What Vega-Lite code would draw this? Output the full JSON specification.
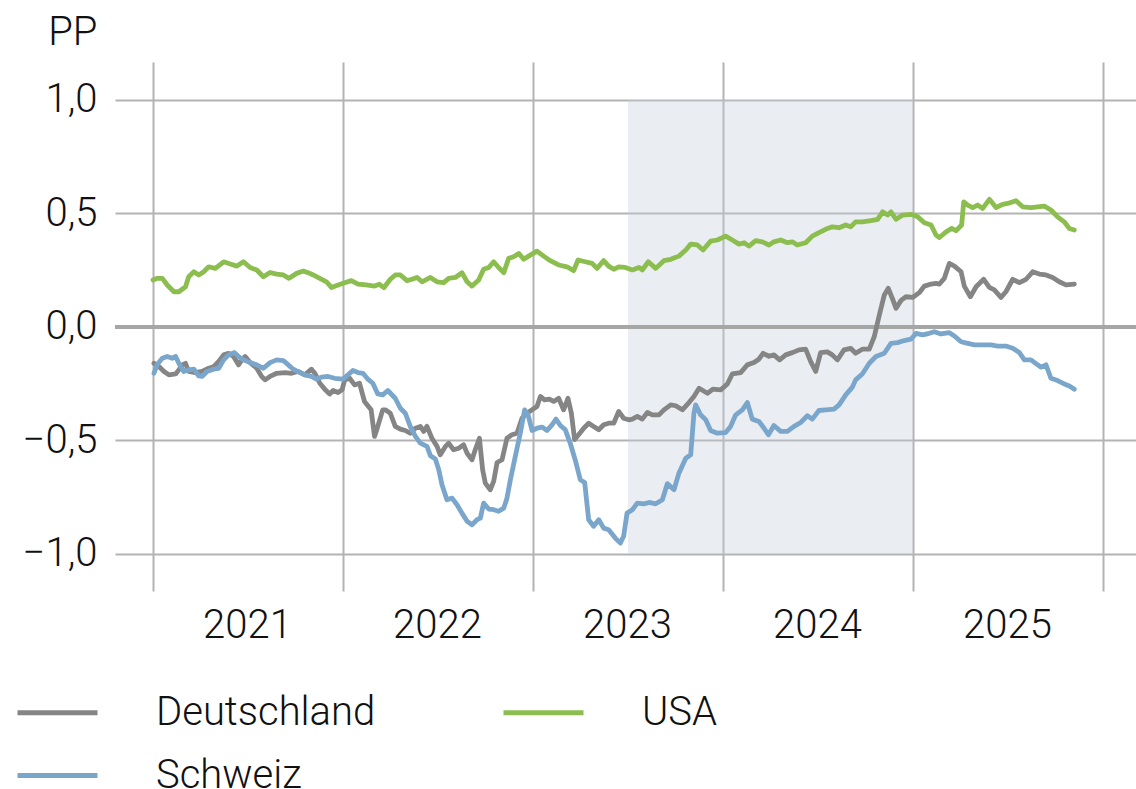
{
  "$schema": "https://vega.github.io/schema/vega-lite/v6.json",
  "width": 1021,
  "height": 529,
  "autosize": {"type": "none"},
  "padding": {"left": 115, "top": 62, "right": 0, "bottom": 198},
  "background": "white",
  "config": {
    "view": {"stroke": null},
    "font": "Roboto",
    "axis": {
      "labelFont": "Roboto", "labelFontWeight": 300, "labelFontSize": 40, "labelColor": "#111111",
      "titleFont": "Roboto", "titleFontWeight": 300, "titleFontSize": 40, "titleColor": "#111111",
      "grid": true, "gridColor": "#b3b3b3", "gridWidth": 2,
      "domain": false, "ticks": false, "labelOverlap": false, "labelBound": false, "labelFlush": false
    },
    "legend": {
      "labelFont": "Roboto", "labelFontWeight": 300, "labelFontSize": 40, "labelColor": "#111111", "labelLimit": 500
    }
  },
  "datasets": {
    "kurven": [
      {"Jahr":2021.005,"Land":"Deutschland","PP":-0.160},
      {"Jahr":2021.031,"Land":"Deutschland","PP":-0.174},
      {"Jahr":2021.058,"Land":"Deutschland","PP":-0.196},
      {"Jahr":2021.084,"Land":"Deutschland","PP":-0.211},
      {"Jahr":2021.119,"Land":"Deutschland","PP":-0.207},
      {"Jahr":2021.136,"Land":"Deutschland","PP":-0.189},
      {"Jahr":2021.154,"Land":"Deutschland","PP":-0.167},
      {"Jahr":2021.171,"Land":"Deutschland","PP":-0.160},
      {"Jahr":2021.188,"Land":"Deutschland","PP":-0.196},
      {"Jahr":2021.223,"Land":"Deutschland","PP":-0.201},
      {"Jahr":2021.258,"Land":"Deutschland","PP":-0.196},
      {"Jahr":2021.293,"Land":"Deutschland","PP":-0.182},
      {"Jahr":2021.319,"Land":"Deutschland","PP":-0.175},
      {"Jahr":2021.346,"Land":"Deutschland","PP":-0.152},
      {"Jahr":2021.372,"Land":"Deutschland","PP":-0.123},
      {"Jahr":2021.398,"Land":"Deutschland","PP":-0.116},
      {"Jahr":2021.424,"Land":"Deutschland","PP":-0.130},
      {"Jahr":2021.450,"Land":"Deutschland","PP":-0.167},
      {"Jahr":2021.468,"Land":"Deutschland","PP":-0.145},
      {"Jahr":2021.485,"Land":"Deutschland","PP":-0.130},
      {"Jahr":2021.511,"Land":"Deutschland","PP":-0.157},
      {"Jahr":2021.546,"Land":"Deutschland","PP":-0.182},
      {"Jahr":2021.572,"Land":"Deutschland","PP":-0.218},
      {"Jahr":2021.590,"Land":"Deutschland","PP":-0.233},
      {"Jahr":2021.616,"Land":"Deutschland","PP":-0.218},
      {"Jahr":2021.651,"Land":"Deutschland","PP":-0.204},
      {"Jahr":2021.695,"Land":"Deutschland","PP":-0.201},
      {"Jahr":2021.729,"Land":"Deutschland","PP":-0.204},
      {"Jahr":2021.764,"Land":"Deutschland","PP":-0.196},
      {"Jahr":2021.799,"Land":"Deutschland","PP":-0.211},
      {"Jahr":2021.834,"Land":"Deutschland","PP":-0.186},
      {"Jahr":2021.852,"Land":"Deutschland","PP":-0.204},
      {"Jahr":2021.878,"Land":"Deutschland","PP":-0.248},
      {"Jahr":2021.904,"Land":"Deutschland","PP":-0.274},
      {"Jahr":2021.930,"Land":"Deutschland","PP":-0.295},
      {"Jahr":2021.948,"Land":"Deutschland","PP":-0.280},
      {"Jahr":2021.974,"Land":"Deutschland","PP":-0.289},
      {"Jahr":2021.995,"Land":"Deutschland","PP":-0.277},
      {"Jahr":2022.009,"Land":"Deutschland","PP":-0.233},
      {"Jahr":2022.035,"Land":"Deutschland","PP":-0.226},
      {"Jahr":2022.061,"Land":"Deutschland","PP":-0.255},
      {"Jahr":2022.087,"Land":"Deutschland","PP":-0.248},
      {"Jahr":2022.113,"Land":"Deutschland","PP":-0.328},
      {"Jahr":2022.148,"Land":"Deutschland","PP":-0.365},
      {"Jahr":2022.166,"Land":"Deutschland","PP":-0.482},
      {"Jahr":2022.183,"Land":"Deutschland","PP":-0.438},
      {"Jahr":2022.209,"Land":"Deutschland","PP":-0.365},
      {"Jahr":2022.223,"Land":"Deutschland","PP":-0.365},
      {"Jahr":2022.249,"Land":"Deutschland","PP":-0.380},
      {"Jahr":2022.275,"Land":"Deutschland","PP":-0.438},
      {"Jahr":2022.302,"Land":"Deutschland","PP":-0.450},
      {"Jahr":2022.328,"Land":"Deutschland","PP":-0.456},
      {"Jahr":2022.354,"Land":"Deutschland","PP":-0.468},
      {"Jahr":2022.381,"Land":"Deutschland","PP":-0.446},
      {"Jahr":2022.407,"Land":"Deutschland","PP":-0.438},
      {"Jahr":2022.425,"Land":"Deutschland","PP":-0.460},
      {"Jahr":2022.442,"Land":"Deutschland","PP":-0.438},
      {"Jahr":2022.468,"Land":"Deutschland","PP":-0.490},
      {"Jahr":2022.495,"Land":"Deutschland","PP":-0.526},
      {"Jahr":2022.512,"Land":"Deutschland","PP":-0.563},
      {"Jahr":2022.539,"Land":"Deutschland","PP":-0.526},
      {"Jahr":2022.556,"Land":"Deutschland","PP":-0.512},
      {"Jahr":2022.582,"Land":"Deutschland","PP":-0.541},
      {"Jahr":2022.609,"Land":"Deutschland","PP":-0.534},
      {"Jahr":2022.635,"Land":"Deutschland","PP":-0.519},
      {"Jahr":2022.653,"Land":"Deutschland","PP":-0.556},
      {"Jahr":2022.679,"Land":"Deutschland","PP":-0.585},
      {"Jahr":2022.696,"Land":"Deutschland","PP":-0.541},
      {"Jahr":2022.718,"Land":"Deutschland","PP":-0.490},
      {"Jahr":2022.735,"Land":"Deutschland","PP":-0.629},
      {"Jahr":2022.749,"Land":"Deutschland","PP":-0.688},
      {"Jahr":2022.775,"Land":"Deutschland","PP":-0.717},
      {"Jahr":2022.793,"Land":"Deutschland","PP":-0.680},
      {"Jahr":2022.811,"Land":"Deutschland","PP":-0.597},
      {"Jahr":2022.837,"Land":"Deutschland","PP":-0.585},
      {"Jahr":2022.863,"Land":"Deutschland","PP":-0.490},
      {"Jahr":2022.889,"Land":"Deutschland","PP":-0.475},
      {"Jahr":2022.916,"Land":"Deutschland","PP":-0.468},
      {"Jahr":2022.942,"Land":"Deutschland","PP":-0.402},
      {"Jahr":2022.968,"Land":"Deutschland","PP":-0.380},
      {"Jahr":2022.995,"Land":"Deutschland","PP":-0.365},
      {"Jahr":2023.021,"Land":"Deutschland","PP":-0.350},
      {"Jahr":2023.039,"Land":"Deutschland","PP":-0.306},
      {"Jahr":2023.061,"Land":"Deutschland","PP":-0.321},
      {"Jahr":2023.086,"Land":"Deutschland","PP":-0.318},
      {"Jahr":2023.109,"Land":"Deutschland","PP":-0.328},
      {"Jahr":2023.135,"Land":"Deutschland","PP":-0.314},
      {"Jahr":2023.161,"Land":"Deutschland","PP":-0.365},
      {"Jahr":2023.184,"Land":"Deutschland","PP":-0.314},
      {"Jahr":2023.202,"Land":"Deutschland","PP":-0.380},
      {"Jahr":2023.219,"Land":"Deutschland","PP":-0.496},
      {"Jahr":2023.240,"Land":"Deutschland","PP":-0.475},
      {"Jahr":2023.267,"Land":"Deutschland","PP":-0.446},
      {"Jahr":2023.293,"Land":"Deutschland","PP":-0.424},
      {"Jahr":2023.319,"Land":"Deutschland","PP":-0.438},
      {"Jahr":2023.346,"Land":"Deutschland","PP":-0.453},
      {"Jahr":2023.372,"Land":"Deutschland","PP":-0.431},
      {"Jahr":2023.398,"Land":"Deutschland","PP":-0.424},
      {"Jahr":2023.425,"Land":"Deutschland","PP":-0.424},
      {"Jahr":2023.451,"Land":"Deutschland","PP":-0.372},
      {"Jahr":2023.477,"Land":"Deutschland","PP":-0.402},
      {"Jahr":2023.504,"Land":"Deutschland","PP":-0.409},
      {"Jahr":2023.523,"Land":"Deutschland","PP":-0.406},
      {"Jahr":2023.549,"Land":"Deutschland","PP":-0.394},
      {"Jahr":2023.575,"Land":"Deutschland","PP":-0.406},
      {"Jahr":2023.602,"Land":"Deutschland","PP":-0.377},
      {"Jahr":2023.628,"Land":"Deutschland","PP":-0.387},
      {"Jahr":2023.663,"Land":"Deutschland","PP":-0.387},
      {"Jahr":2023.689,"Land":"Deutschland","PP":-0.365},
      {"Jahr":2023.725,"Land":"Deutschland","PP":-0.343},
      {"Jahr":2023.751,"Land":"Deutschland","PP":-0.347},
      {"Jahr":2023.786,"Land":"Deutschland","PP":-0.365},
      {"Jahr":2023.821,"Land":"Deutschland","PP":-0.333},
      {"Jahr":2023.847,"Land":"Deutschland","PP":-0.306},
      {"Jahr":2023.874,"Land":"Deutschland","PP":-0.270},
      {"Jahr":2023.918,"Land":"Deutschland","PP":-0.292},
      {"Jahr":2023.947,"Land":"Deutschland","PP":-0.274},
      {"Jahr":2023.988,"Land":"Deutschland","PP":-0.277},
      {"Jahr":2024.023,"Land":"Deutschland","PP":-0.251},
      {"Jahr":2024.049,"Land":"Deutschland","PP":-0.207},
      {"Jahr":2024.093,"Land":"Deutschland","PP":-0.201},
      {"Jahr":2024.128,"Land":"Deutschland","PP":-0.167},
      {"Jahr":2024.163,"Land":"Deutschland","PP":-0.157},
      {"Jahr":2024.189,"Land":"Deutschland","PP":-0.142},
      {"Jahr":2024.211,"Land":"Deutschland","PP":-0.116},
      {"Jahr":2024.242,"Land":"Deutschland","PP":-0.129},
      {"Jahr":2024.268,"Land":"Deutschland","PP":-0.123},
      {"Jahr":2024.298,"Land":"Deutschland","PP":-0.145},
      {"Jahr":2024.330,"Land":"Deutschland","PP":-0.123},
      {"Jahr":2024.365,"Land":"Deutschland","PP":-0.113},
      {"Jahr":2024.400,"Land":"Deutschland","PP":-0.101},
      {"Jahr":2024.435,"Land":"Deutschland","PP":-0.098},
      {"Jahr":2024.461,"Land":"Deutschland","PP":-0.152},
      {"Jahr":2024.488,"Land":"Deutschland","PP":-0.196},
      {"Jahr":2024.514,"Land":"Deutschland","PP":-0.113},
      {"Jahr":2024.549,"Land":"Deutschland","PP":-0.110},
      {"Jahr":2024.575,"Land":"Deutschland","PP":-0.123},
      {"Jahr":2024.602,"Land":"Deutschland","PP":-0.145},
      {"Jahr":2024.637,"Land":"Deutschland","PP":-0.101},
      {"Jahr":2024.672,"Land":"Deutschland","PP":-0.094},
      {"Jahr":2024.698,"Land":"Deutschland","PP":-0.116},
      {"Jahr":2024.733,"Land":"Deutschland","PP":-0.098},
      {"Jahr":2024.770,"Land":"Deutschland","PP":-0.098},
      {"Jahr":2024.796,"Land":"Deutschland","PP":-0.043},
      {"Jahr":2024.823,"Land":"Deutschland","PP":0.053},
      {"Jahr":2024.849,"Land":"Deutschland","PP":0.141},
      {"Jahr":2024.870,"Land":"Deutschland","PP":0.170},
      {"Jahr":2024.893,"Land":"Deutschland","PP":0.122},
      {"Jahr":2024.911,"Land":"Deutschland","PP":0.082},
      {"Jahr":2024.937,"Land":"Deutschland","PP":0.117},
      {"Jahr":2024.963,"Land":"Deutschland","PP":0.133},
      {"Jahr":2024.998,"Land":"Deutschland","PP":0.130},
      {"Jahr":2025.033,"Land":"Deutschland","PP":0.151},
      {"Jahr":2025.060,"Land":"Deutschland","PP":0.180},
      {"Jahr":2025.095,"Land":"Deutschland","PP":0.189},
      {"Jahr":2025.121,"Land":"Deutschland","PP":0.192},
      {"Jahr":2025.139,"Land":"Deutschland","PP":0.189},
      {"Jahr":2025.165,"Land":"Deutschland","PP":0.214},
      {"Jahr":2025.191,"Land":"Deutschland","PP":0.280},
      {"Jahr":2025.218,"Land":"Deutschland","PP":0.268},
      {"Jahr":2025.253,"Land":"Deutschland","PP":0.243},
      {"Jahr":2025.270,"Land":"Deutschland","PP":0.180},
      {"Jahr":2025.302,"Land":"Deutschland","PP":0.133},
      {"Jahr":2025.332,"Land":"Deutschland","PP":0.177},
      {"Jahr":2025.372,"Land":"Deutschland","PP":0.210},
      {"Jahr":2025.402,"Land":"Deutschland","PP":0.174},
      {"Jahr":2025.428,"Land":"Deutschland","PP":0.163},
      {"Jahr":2025.463,"Land":"Deutschland","PP":0.130},
      {"Jahr":2025.489,"Land":"Deutschland","PP":0.155},
      {"Jahr":2025.525,"Land":"Deutschland","PP":0.210},
      {"Jahr":2025.560,"Land":"Deutschland","PP":0.195},
      {"Jahr":2025.595,"Land":"Deutschland","PP":0.210},
      {"Jahr":2025.630,"Land":"Deutschland","PP":0.243},
      {"Jahr":2025.665,"Land":"Deutschland","PP":0.233},
      {"Jahr":2025.700,"Land":"Deutschland","PP":0.229},
      {"Jahr":2025.735,"Land":"Deutschland","PP":0.218},
      {"Jahr":2025.770,"Land":"Deutschland","PP":0.199},
      {"Jahr":2025.805,"Land":"Deutschland","PP":0.185},
      {"Jahr":2025.849,"Land":"Deutschland","PP":0.189},

      {"Jahr":2021.005,"Land":"Schweiz","PP":-0.204},
      {"Jahr":2021.023,"Land":"Schweiz","PP":-0.164},
      {"Jahr":2021.049,"Land":"Schweiz","PP":-0.138},
      {"Jahr":2021.075,"Land":"Schweiz","PP":-0.130},
      {"Jahr":2021.101,"Land":"Schweiz","PP":-0.138},
      {"Jahr":2021.119,"Land":"Schweiz","PP":-0.130},
      {"Jahr":2021.136,"Land":"Schweiz","PP":-0.160},
      {"Jahr":2021.162,"Land":"Schweiz","PP":-0.196},
      {"Jahr":2021.188,"Land":"Schweiz","PP":-0.189},
      {"Jahr":2021.215,"Land":"Schweiz","PP":-0.186},
      {"Jahr":2021.241,"Land":"Schweiz","PP":-0.216},
      {"Jahr":2021.258,"Land":"Schweiz","PP":-0.218},
      {"Jahr":2021.284,"Land":"Schweiz","PP":-0.196},
      {"Jahr":2021.319,"Land":"Schweiz","PP":-0.186},
      {"Jahr":2021.346,"Land":"Schweiz","PP":-0.182},
      {"Jahr":2021.372,"Land":"Schweiz","PP":-0.145},
      {"Jahr":2021.398,"Land":"Schweiz","PP":-0.123},
      {"Jahr":2021.429,"Land":"Schweiz","PP":-0.113},
      {"Jahr":2021.450,"Land":"Schweiz","PP":-0.130},
      {"Jahr":2021.476,"Land":"Schweiz","PP":-0.145},
      {"Jahr":2021.511,"Land":"Schweiz","PP":-0.157},
      {"Jahr":2021.546,"Land":"Schweiz","PP":-0.167},
      {"Jahr":2021.581,"Land":"Schweiz","PP":-0.182},
      {"Jahr":2021.616,"Land":"Schweiz","PP":-0.157},
      {"Jahr":2021.651,"Land":"Schweiz","PP":-0.145},
      {"Jahr":2021.686,"Land":"Schweiz","PP":-0.148},
      {"Jahr":2021.712,"Land":"Schweiz","PP":-0.167},
      {"Jahr":2021.738,"Land":"Schweiz","PP":-0.186},
      {"Jahr":2021.773,"Land":"Schweiz","PP":-0.201},
      {"Jahr":2021.799,"Land":"Schweiz","PP":-0.211},
      {"Jahr":2021.834,"Land":"Schweiz","PP":-0.218},
      {"Jahr":2021.860,"Land":"Schweiz","PP":-0.230},
      {"Jahr":2021.887,"Land":"Schweiz","PP":-0.221},
      {"Jahr":2021.921,"Land":"Schweiz","PP":-0.218},
      {"Jahr":2021.956,"Land":"Schweiz","PP":-0.226},
      {"Jahr":2022.000,"Land":"Schweiz","PP":-0.230},
      {"Jahr":2022.026,"Land":"Schweiz","PP":-0.211},
      {"Jahr":2022.052,"Land":"Schweiz","PP":-0.192},
      {"Jahr":2022.079,"Land":"Schweiz","PP":-0.201},
      {"Jahr":2022.105,"Land":"Schweiz","PP":-0.204},
      {"Jahr":2022.131,"Land":"Schweiz","PP":-0.230},
      {"Jahr":2022.157,"Land":"Schweiz","PP":-0.248},
      {"Jahr":2022.183,"Land":"Schweiz","PP":-0.295},
      {"Jahr":2022.209,"Land":"Schweiz","PP":-0.299},
      {"Jahr":2022.236,"Land":"Schweiz","PP":-0.280},
      {"Jahr":2022.275,"Land":"Schweiz","PP":-0.314},
      {"Jahr":2022.302,"Land":"Schweiz","PP":-0.358},
      {"Jahr":2022.328,"Land":"Schweiz","PP":-0.380},
      {"Jahr":2022.354,"Land":"Schweiz","PP":-0.438},
      {"Jahr":2022.381,"Land":"Schweiz","PP":-0.482},
      {"Jahr":2022.407,"Land":"Schweiz","PP":-0.512},
      {"Jahr":2022.442,"Land":"Schweiz","PP":-0.526},
      {"Jahr":2022.460,"Land":"Schweiz","PP":-0.567},
      {"Jahr":2022.486,"Land":"Schweiz","PP":-0.582},
      {"Jahr":2022.504,"Land":"Schweiz","PP":-0.629},
      {"Jahr":2022.521,"Land":"Schweiz","PP":-0.695},
      {"Jahr":2022.547,"Land":"Schweiz","PP":-0.761},
      {"Jahr":2022.574,"Land":"Schweiz","PP":-0.754},
      {"Jahr":2022.600,"Land":"Schweiz","PP":-0.783},
      {"Jahr":2022.626,"Land":"Schweiz","PP":-0.820},
      {"Jahr":2022.653,"Land":"Schweiz","PP":-0.856},
      {"Jahr":2022.679,"Land":"Schweiz","PP":-0.871},
      {"Jahr":2022.705,"Land":"Schweiz","PP":-0.849},
      {"Jahr":2022.723,"Land":"Schweiz","PP":-0.842},
      {"Jahr":2022.740,"Land":"Schweiz","PP":-0.776},
      {"Jahr":2022.767,"Land":"Schweiz","PP":-0.802},
      {"Jahr":2022.793,"Land":"Schweiz","PP":-0.805},
      {"Jahr":2022.819,"Land":"Schweiz","PP":-0.812},
      {"Jahr":2022.846,"Land":"Schweiz","PP":-0.798},
      {"Jahr":2022.863,"Land":"Schweiz","PP":-0.754},
      {"Jahr":2022.881,"Land":"Schweiz","PP":-0.673},
      {"Jahr":2022.907,"Land":"Schweiz","PP":-0.570},
      {"Jahr":2022.933,"Land":"Schweiz","PP":-0.468},
      {"Jahr":2022.956,"Land":"Schweiz","PP":-0.365},
      {"Jahr":2022.974,"Land":"Schweiz","PP":-0.387},
      {"Jahr":2022.995,"Land":"Schweiz","PP":-0.456},
      {"Jahr":2023.021,"Land":"Schweiz","PP":-0.446},
      {"Jahr":2023.047,"Land":"Schweiz","PP":-0.441},
      {"Jahr":2023.074,"Land":"Schweiz","PP":-0.456},
      {"Jahr":2023.100,"Land":"Schweiz","PP":-0.431},
      {"Jahr":2023.121,"Land":"Schweiz","PP":-0.406},
      {"Jahr":2023.144,"Land":"Schweiz","PP":-0.434},
      {"Jahr":2023.170,"Land":"Schweiz","PP":-0.453},
      {"Jahr":2023.196,"Land":"Schweiz","PP":-0.512},
      {"Jahr":2023.223,"Land":"Schweiz","PP":-0.588},
      {"Jahr":2023.249,"Land":"Schweiz","PP":-0.673},
      {"Jahr":2023.272,"Land":"Schweiz","PP":-0.685},
      {"Jahr":2023.293,"Land":"Schweiz","PP":-0.849},
      {"Jahr":2023.319,"Land":"Schweiz","PP":-0.878},
      {"Jahr":2023.346,"Land":"Schweiz","PP":-0.849},
      {"Jahr":2023.372,"Land":"Schweiz","PP":-0.886},
      {"Jahr":2023.398,"Land":"Schweiz","PP":-0.893},
      {"Jahr":2023.433,"Land":"Schweiz","PP":-0.930},
      {"Jahr":2023.460,"Land":"Schweiz","PP":-0.952},
      {"Jahr":2023.477,"Land":"Schweiz","PP":-0.922},
      {"Jahr":2023.495,"Land":"Schweiz","PP":-0.820},
      {"Jahr":2023.523,"Land":"Schweiz","PP":-0.805},
      {"Jahr":2023.549,"Land":"Schweiz","PP":-0.776},
      {"Jahr":2023.584,"Land":"Schweiz","PP":-0.779},
      {"Jahr":2023.611,"Land":"Schweiz","PP":-0.773},
      {"Jahr":2023.646,"Land":"Schweiz","PP":-0.779},
      {"Jahr":2023.681,"Land":"Schweiz","PP":-0.761},
      {"Jahr":2023.707,"Land":"Schweiz","PP":-0.690},
      {"Jahr":2023.742,"Land":"Schweiz","PP":-0.717},
      {"Jahr":2023.768,"Land":"Schweiz","PP":-0.644},
      {"Jahr":2023.804,"Land":"Schweiz","PP":-0.578},
      {"Jahr":2023.830,"Land":"Schweiz","PP":-0.563},
      {"Jahr":2023.847,"Land":"Schweiz","PP":-0.380},
      {"Jahr":2023.856,"Land":"Schweiz","PP":-0.343},
      {"Jahr":2023.882,"Land":"Schweiz","PP":-0.387},
      {"Jahr":2023.909,"Land":"Schweiz","PP":-0.409},
      {"Jahr":2023.935,"Land":"Schweiz","PP":-0.456},
      {"Jahr":2023.970,"Land":"Schweiz","PP":-0.468},
      {"Jahr":2024.014,"Land":"Schweiz","PP":-0.465},
      {"Jahr":2024.040,"Land":"Schweiz","PP":-0.438},
      {"Jahr":2024.067,"Land":"Schweiz","PP":-0.387},
      {"Jahr":2024.102,"Land":"Schweiz","PP":-0.365},
      {"Jahr":2024.128,"Land":"Schweiz","PP":-0.333},
      {"Jahr":2024.154,"Land":"Schweiz","PP":-0.406},
      {"Jahr":2024.189,"Land":"Schweiz","PP":-0.416},
      {"Jahr":2024.216,"Land":"Schweiz","PP":-0.446},
      {"Jahr":2024.239,"Land":"Schweiz","PP":-0.475},
      {"Jahr":2024.268,"Land":"Schweiz","PP":-0.434},
      {"Jahr":2024.304,"Land":"Schweiz","PP":-0.460},
      {"Jahr":2024.339,"Land":"Schweiz","PP":-0.460},
      {"Jahr":2024.374,"Land":"Schweiz","PP":-0.438},
      {"Jahr":2024.409,"Land":"Schweiz","PP":-0.421},
      {"Jahr":2024.444,"Land":"Schweiz","PP":-0.391},
      {"Jahr":2024.470,"Land":"Schweiz","PP":-0.406},
      {"Jahr":2024.505,"Land":"Schweiz","PP":-0.368},
      {"Jahr":2024.540,"Land":"Schweiz","PP":-0.365},
      {"Jahr":2024.584,"Land":"Schweiz","PP":-0.362},
      {"Jahr":2024.611,"Land":"Schweiz","PP":-0.343},
      {"Jahr":2024.646,"Land":"Schweiz","PP":-0.299},
      {"Jahr":2024.681,"Land":"Schweiz","PP":-0.265},
      {"Jahr":2024.698,"Land":"Schweiz","PP":-0.233},
      {"Jahr":2024.733,"Land":"Schweiz","PP":-0.207},
      {"Jahr":2024.770,"Land":"Schweiz","PP":-0.160},
      {"Jahr":2024.805,"Land":"Schweiz","PP":-0.130},
      {"Jahr":2024.849,"Land":"Schweiz","PP":-0.116},
      {"Jahr":2024.884,"Land":"Schweiz","PP":-0.072},
      {"Jahr":2024.919,"Land":"Schweiz","PP":-0.069},
      {"Jahr":2024.954,"Land":"Schweiz","PP":-0.060},
      {"Jahr":2024.989,"Land":"Schweiz","PP":-0.054},
      {"Jahr":2025.016,"Land":"Schweiz","PP":-0.028},
      {"Jahr":2025.051,"Land":"Schweiz","PP":-0.035},
      {"Jahr":2025.086,"Land":"Schweiz","PP":-0.028},
      {"Jahr":2025.112,"Land":"Schweiz","PP":-0.021},
      {"Jahr":2025.147,"Land":"Schweiz","PP":-0.031},
      {"Jahr":2025.191,"Land":"Schweiz","PP":-0.025},
      {"Jahr":2025.218,"Land":"Schweiz","PP":-0.040},
      {"Jahr":2025.253,"Land":"Schweiz","PP":-0.065},
      {"Jahr":2025.288,"Land":"Schweiz","PP":-0.072},
      {"Jahr":2025.323,"Land":"Schweiz","PP":-0.079},
      {"Jahr":2025.367,"Land":"Schweiz","PP":-0.079},
      {"Jahr":2025.411,"Land":"Schweiz","PP":-0.079},
      {"Jahr":2025.446,"Land":"Schweiz","PP":-0.084},
      {"Jahr":2025.489,"Land":"Schweiz","PP":-0.084},
      {"Jahr":2025.525,"Land":"Schweiz","PP":-0.094},
      {"Jahr":2025.560,"Land":"Schweiz","PP":-0.113},
      {"Jahr":2025.586,"Land":"Schweiz","PP":-0.145},
      {"Jahr":2025.621,"Land":"Schweiz","PP":-0.145},
      {"Jahr":2025.656,"Land":"Schweiz","PP":-0.167},
      {"Jahr":2025.674,"Land":"Schweiz","PP":-0.177},
      {"Jahr":2025.700,"Land":"Schweiz","PP":-0.167},
      {"Jahr":2025.726,"Land":"Schweiz","PP":-0.226},
      {"Jahr":2025.761,"Land":"Schweiz","PP":-0.236},
      {"Jahr":2025.796,"Land":"Schweiz","PP":-0.251},
      {"Jahr":2025.823,"Land":"Schweiz","PP":-0.260},
      {"Jahr":2025.849,"Land":"Schweiz","PP":-0.274},

      {"Jahr":2021.000,"Land":"USA","PP":0.207},
      {"Jahr":2021.023,"Land":"USA","PP":0.214},
      {"Jahr":2021.049,"Land":"USA","PP":0.214},
      {"Jahr":2021.075,"Land":"USA","PP":0.185},
      {"Jahr":2021.110,"Land":"USA","PP":0.155},
      {"Jahr":2021.136,"Land":"USA","PP":0.155},
      {"Jahr":2021.171,"Land":"USA","PP":0.177},
      {"Jahr":2021.188,"Land":"USA","PP":0.221},
      {"Jahr":2021.215,"Land":"USA","PP":0.243},
      {"Jahr":2021.241,"Land":"USA","PP":0.229},
      {"Jahr":2021.267,"Land":"USA","PP":0.243},
      {"Jahr":2021.293,"Land":"USA","PP":0.265},
      {"Jahr":2021.328,"Land":"USA","PP":0.258},
      {"Jahr":2021.372,"Land":"USA","PP":0.287},
      {"Jahr":2021.407,"Land":"USA","PP":0.277},
      {"Jahr":2021.442,"Land":"USA","PP":0.268},
      {"Jahr":2021.476,"Land":"USA","PP":0.287},
      {"Jahr":2021.511,"Land":"USA","PP":0.262},
      {"Jahr":2021.546,"Land":"USA","PP":0.251},
      {"Jahr":2021.581,"Land":"USA","PP":0.221},
      {"Jahr":2021.616,"Land":"USA","PP":0.240},
      {"Jahr":2021.651,"Land":"USA","PP":0.233},
      {"Jahr":2021.686,"Land":"USA","PP":0.229},
      {"Jahr":2021.716,"Land":"USA","PP":0.214},
      {"Jahr":2021.756,"Land":"USA","PP":0.236},
      {"Jahr":2021.791,"Land":"USA","PP":0.246},
      {"Jahr":2021.817,"Land":"USA","PP":0.239},
      {"Jahr":2021.843,"Land":"USA","PP":0.229},
      {"Jahr":2021.878,"Land":"USA","PP":0.214},
      {"Jahr":2021.913,"Land":"USA","PP":0.199},
      {"Jahr":2021.939,"Land":"USA","PP":0.174},
      {"Jahr":2021.974,"Land":"USA","PP":0.185},
      {"Jahr":2022.009,"Land":"USA","PP":0.195},
      {"Jahr":2022.044,"Land":"USA","PP":0.204},
      {"Jahr":2022.079,"Land":"USA","PP":0.189},
      {"Jahr":2022.122,"Land":"USA","PP":0.185},
      {"Jahr":2022.166,"Land":"USA","PP":0.180},
      {"Jahr":2022.192,"Land":"USA","PP":0.188},
      {"Jahr":2022.215,"Land":"USA","PP":0.173},
      {"Jahr":2022.249,"Land":"USA","PP":0.210},
      {"Jahr":2022.275,"Land":"USA","PP":0.229},
      {"Jahr":2022.302,"Land":"USA","PP":0.229},
      {"Jahr":2022.337,"Land":"USA","PP":0.204},
      {"Jahr":2022.363,"Land":"USA","PP":0.210},
      {"Jahr":2022.389,"Land":"USA","PP":0.218},
      {"Jahr":2022.416,"Land":"USA","PP":0.199},
      {"Jahr":2022.460,"Land":"USA","PP":0.218},
      {"Jahr":2022.495,"Land":"USA","PP":0.199},
      {"Jahr":2022.530,"Land":"USA","PP":0.195},
      {"Jahr":2022.556,"Land":"USA","PP":0.214},
      {"Jahr":2022.591,"Land":"USA","PP":0.218},
      {"Jahr":2022.626,"Land":"USA","PP":0.239},
      {"Jahr":2022.653,"Land":"USA","PP":0.199},
      {"Jahr":2022.679,"Land":"USA","PP":0.180},
      {"Jahr":2022.714,"Land":"USA","PP":0.207},
      {"Jahr":2022.740,"Land":"USA","PP":0.254},
      {"Jahr":2022.767,"Land":"USA","PP":0.262},
      {"Jahr":2022.793,"Land":"USA","PP":0.287},
      {"Jahr":2022.819,"Land":"USA","PP":0.262},
      {"Jahr":2022.846,"Land":"USA","PP":0.239},
      {"Jahr":2022.872,"Land":"USA","PP":0.302},
      {"Jahr":2022.898,"Land":"USA","PP":0.309},
      {"Jahr":2022.925,"Land":"USA","PP":0.324},
      {"Jahr":2022.951,"Land":"USA","PP":0.298},
      {"Jahr":2022.977,"Land":"USA","PP":0.312},
      {"Jahr":2023.021,"Land":"USA","PP":0.334},
      {"Jahr":2023.056,"Land":"USA","PP":0.312},
      {"Jahr":2023.091,"Land":"USA","PP":0.292},
      {"Jahr":2023.135,"Land":"USA","PP":0.273},
      {"Jahr":2023.179,"Land":"USA","PP":0.265},
      {"Jahr":2023.214,"Land":"USA","PP":0.248},
      {"Jahr":2023.237,"Land":"USA","PP":0.295},
      {"Jahr":2023.275,"Land":"USA","PP":0.287},
      {"Jahr":2023.311,"Land":"USA","PP":0.280},
      {"Jahr":2023.337,"Land":"USA","PP":0.258},
      {"Jahr":2023.372,"Land":"USA","PP":0.292},
      {"Jahr":2023.398,"Land":"USA","PP":0.268},
      {"Jahr":2023.425,"Land":"USA","PP":0.254},
      {"Jahr":2023.451,"Land":"USA","PP":0.265},
      {"Jahr":2023.486,"Land":"USA","PP":0.262},
      {"Jahr":2023.523,"Land":"USA","PP":0.251},
      {"Jahr":2023.558,"Land":"USA","PP":0.262},
      {"Jahr":2023.575,"Land":"USA","PP":0.251},
      {"Jahr":2023.607,"Land":"USA","PP":0.287},
      {"Jahr":2023.646,"Land":"USA","PP":0.258},
      {"Jahr":2023.689,"Land":"USA","PP":0.292},
      {"Jahr":2023.725,"Land":"USA","PP":0.298},
      {"Jahr":2023.768,"Land":"USA","PP":0.312},
      {"Jahr":2023.804,"Land":"USA","PP":0.339},
      {"Jahr":2023.830,"Land":"USA","PP":0.365},
      {"Jahr":2023.865,"Land":"USA","PP":0.361},
      {"Jahr":2023.895,"Land":"USA","PP":0.339},
      {"Jahr":2023.935,"Land":"USA","PP":0.378},
      {"Jahr":2023.970,"Land":"USA","PP":0.383},
      {"Jahr":2024.014,"Land":"USA","PP":0.400},
      {"Jahr":2024.049,"Land":"USA","PP":0.383},
      {"Jahr":2024.084,"Land":"USA","PP":0.365},
      {"Jahr":2024.111,"Land":"USA","PP":0.371},
      {"Jahr":2024.137,"Land":"USA","PP":0.356},
      {"Jahr":2024.172,"Land":"USA","PP":0.380},
      {"Jahr":2024.207,"Land":"USA","PP":0.375},
      {"Jahr":2024.242,"Land":"USA","PP":0.361},
      {"Jahr":2024.268,"Land":"USA","PP":0.375},
      {"Jahr":2024.304,"Land":"USA","PP":0.383},
      {"Jahr":2024.339,"Land":"USA","PP":0.371},
      {"Jahr":2024.365,"Land":"USA","PP":0.375},
      {"Jahr":2024.391,"Land":"USA","PP":0.361},
      {"Jahr":2024.435,"Land":"USA","PP":0.371},
      {"Jahr":2024.470,"Land":"USA","PP":0.400},
      {"Jahr":2024.505,"Land":"USA","PP":0.415},
      {"Jahr":2024.540,"Land":"USA","PP":0.430},
      {"Jahr":2024.575,"Land":"USA","PP":0.441},
      {"Jahr":2024.611,"Land":"USA","PP":0.437},
      {"Jahr":2024.646,"Land":"USA","PP":0.449},
      {"Jahr":2024.672,"Land":"USA","PP":0.441},
      {"Jahr":2024.698,"Land":"USA","PP":0.463},
      {"Jahr":2024.733,"Land":"USA","PP":0.463},
      {"Jahr":2024.779,"Land":"USA","PP":0.468},
      {"Jahr":2024.814,"Land":"USA","PP":0.474},
      {"Jahr":2024.840,"Land":"USA","PP":0.507},
      {"Jahr":2024.867,"Land":"USA","PP":0.493},
      {"Jahr":2024.884,"Land":"USA","PP":0.507},
      {"Jahr":2024.911,"Land":"USA","PP":0.474},
      {"Jahr":2024.946,"Land":"USA","PP":0.493},
      {"Jahr":2024.989,"Land":"USA","PP":0.496},
      {"Jahr":2025.025,"Land":"USA","PP":0.485},
      {"Jahr":2025.060,"Land":"USA","PP":0.459},
      {"Jahr":2025.095,"Land":"USA","PP":0.449},
      {"Jahr":2025.121,"Land":"USA","PP":0.405},
      {"Jahr":2025.139,"Land":"USA","PP":0.394},
      {"Jahr":2025.174,"Land":"USA","PP":0.419},
      {"Jahr":2025.204,"Land":"USA","PP":0.434},
      {"Jahr":2025.226,"Land":"USA","PP":0.424},
      {"Jahr":2025.256,"Land":"USA","PP":0.449},
      {"Jahr":2025.267,"Land":"USA","PP":0.551},
      {"Jahr":2025.288,"Land":"USA","PP":0.537},
      {"Jahr":2025.314,"Land":"USA","PP":0.526},
      {"Jahr":2025.340,"Land":"USA","PP":0.537},
      {"Jahr":2025.367,"Land":"USA","PP":0.522},
      {"Jahr":2025.402,"Land":"USA","PP":0.562},
      {"Jahr":2025.437,"Land":"USA","PP":0.526},
      {"Jahr":2025.472,"Land":"USA","PP":0.540},
      {"Jahr":2025.498,"Land":"USA","PP":0.544},
      {"Jahr":2025.542,"Land":"USA","PP":0.556},
      {"Jahr":2025.577,"Land":"USA","PP":0.529},
      {"Jahr":2025.621,"Land":"USA","PP":0.526},
      {"Jahr":2025.656,"Land":"USA","PP":0.529},
      {"Jahr":2025.691,"Land":"USA","PP":0.532},
      {"Jahr":2025.726,"Land":"USA","PP":0.515},
      {"Jahr":2025.761,"Land":"USA","PP":0.485},
      {"Jahr":2025.796,"Land":"USA","PP":0.463},
      {"Jahr":2025.823,"Land":"USA","PP":0.434},
      {"Jahr":2025.849,"Land":"USA","PP":0.427}
    ],
    "phase": [{"von": 2023.5, "bis": 2025.0}]
  },
  "encoding": {
    "x": {
      "field": "Jahr", "type": "quantitative",
      "scale": {"domain": [2020.8, 2026.1737], "nice": false, "zero": false},
      "axis": {
        "title": null, "values": [2021, 2022, 2023, 2024, 2025, 2026],
        "labelOffset": 94, "labelPadding": 14,
        "labelExpr": "datum.value > 2025.5 ? '' : format(datum.value, 'd')"
      }
    }
  },
  "layer": [
    {
      "data": {"name": "phase"},
      "mark": {"type": "rect", "color": "#c3ced9", "opacity": 0.35},
      "encoding": {
        "x": {"field": "von", "type": "quantitative"},
        "x2": {"field": "bis"},
        "y": {"datum": -1},
        "y2": {"datum": 1}
      }
    },
    {
      "data": {"name": "phase"},
      "mark": {"type": "rule", "color": "#a6a6a6", "strokeWidth": 4},
      "encoding": {"y": {"datum": 0}, "x": null}
    },
    {
      "data": {"name": "kurven"},
      "mark": {"type": "line", "strokeWidth": 4.8, "strokeCap": "round", "strokeJoin": "round"},
      "encoding": {
        "y": {
          "field": "PP", "type": "quantitative",
          "scale": {"domain": [-1.163, 1.167], "nice": false, "zero": false},
          "axis": {
            "values": [-1, -0.5, 0, 0.5, 1], "labelPadding": 18,
            "labelExpr": "replace(format(datum.value, '.1f'), '.', ',')",
            "title": "PP", "titleAngle": 0, "titleAlign": "right", "titleBaseline": "alphabetic",
            "titleX": -18, "titleY": -18
          }
        },
        "color": {
          "field": "Land", "type": "nominal",
          "scale": {"domain": ["Deutschland", "Schweiz", "USA"], "range": ["#858585", "#7ba6cc", "#8bbd4f"]},
          "legend": {
            "title": null, "orient": "none", "direction": "vertical", "legendX": -100, "legendY": 608,
            "columns": 2, "columnPadding": 117, "rowPadding": 0, "padding": 0,
            "symbolType": "stroke", "symbolStrokeWidth": 5, "symbolSize": 6400, "labelOffset": 56
          }
        },
        "order": {"field": "Jahr", "type": "quantitative"}
      }
    }
  ]
}
